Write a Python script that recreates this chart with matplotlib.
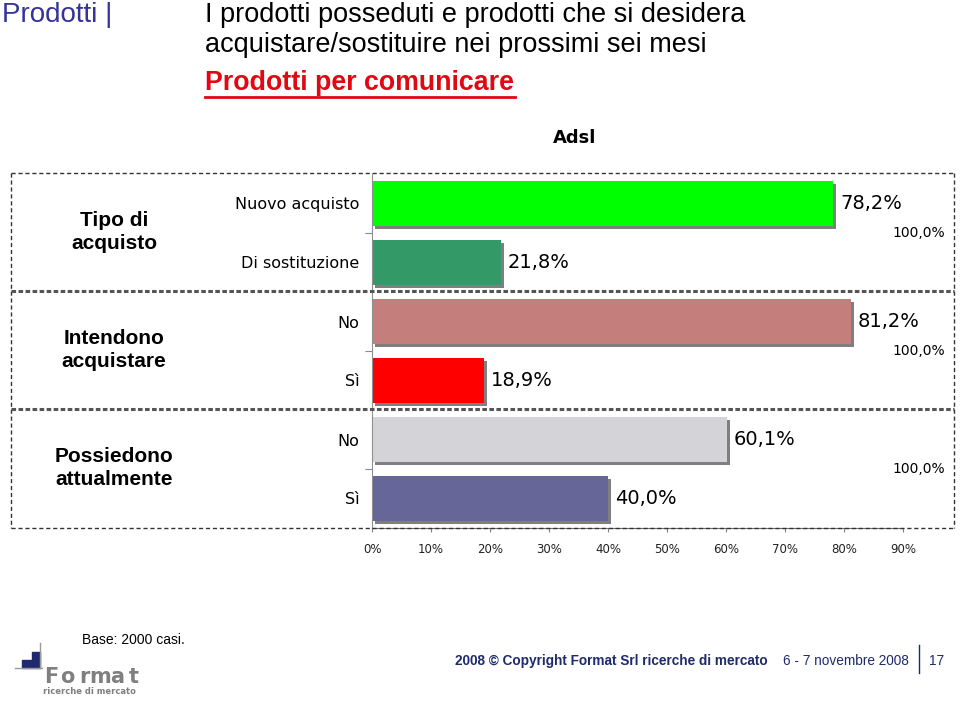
import matplotlib
matplotlib.use("Agg")
import matplotlib.pyplot as plt
import matplotlib.patheffects as pe
from matplotlib.lines import Line2D
from matplotlib.patches import Rectangle

# Data
categories = ["Nuovo acquisto", "Di sostituzione", "No", "Sì", "No", "Sì"]
values = [78.2, 21.8, 81.2, 18.9, 60.1, 40.0]
bar_colors = ["#00ff00", "#339966", "#c47f7c", "#ff0000", "#d4d4d8", "#666699"]
groups = ["Tipo di\nacquisto", "Intendono\nacquistare", "Possiedono\nattualmente"]
group_totals = [100.0, 100.0, 100.0]
x_ticks = [0, 10, 20, 30, 40, 50, 60, 70, 80, 90]

W, H = 960, 703


def fx(x):
    return x / W


def fy(y):
    return 1 - y / H


def pct(v):
    return f"{v:.1f}%".replace(".", ",")


fig = plt.figure(figsize=(9.6, 7.03), dpi=100)
ax = fig.add_axes([fx(372), fy(528), fx(903) - fx(372), fy(174) - fy(528)])

ypos = list(range(len(values)))
shadow = [pe.SimplePatchShadow(offset=(2.2, -2.2), shadow_rgbFace="#7f7f7f", alpha=1), pe.Normal()]
bars = ax.barh(ypos, values, height=0.75, color=bar_colors, edgecolor="none")
for b in bars:
    b.set_path_effects(shadow)

for y, v in zip(ypos, values):
    ax.annotate(pct(v), (v, y), xytext=(5, 0), textcoords="offset points",
                ha="left", va="center", fontsize=14, family="DejaVu Sans")

for i, t in enumerate(group_totals):
    ax.annotate(pct(t), (1.0, 2 * i + 0.5), xycoords=("axes fraction", "data"),
                xytext=(42, 0), textcoords="offset pixels",
                ha="right", va="center", fontsize=10, family="DejaVu Sans")

ax.set_xlim(0, 90)
ax.set_ylim(len(values) - 0.5, -0.5)
ax.set_xticks(x_ticks)
ax.set_xticklabels([f"{t}%" for t in x_ticks], fontsize=8.5, family="DejaVu Sans", color="#222222")
ax.tick_params(axis="x", length=3, width=0.8, color="#808080", pad=8)
ax.set_yticks(ypos)
ax.set_yticklabels(categories, fontsize=11.5, family="DejaVu Sans")
ax.tick_params(axis="y", length=0, pad=9)
ax.set_yticks([0.5, 2.5, 4.5], minor=True)
ax.tick_params(axis="y", which="minor", length=5, color="#9080b0", width=0.8)
for s in ["top", "right"]:
    ax.spines[s].set_visible(False)
ax.spines["left"].set_color("#909090")
ax.spines["bottom"].set_color("#707070")

# group labels
for i, g in enumerate(groups):
    cy = 232 + i * 118
    fig.text(fx(114), fy(cy), g, ha="center", va="center", fontsize=15,
             fontweight="bold", family="Liberation Sans", linespacing=1.3)

# dashed frame and separators
dash = dict(color="#333333", lw=1, linestyle=(0, (3, 2)), transform=fig.transFigure)
fig.add_artist(Line2D([fx(11), fx(954)], [fy(173), fy(173)], **dash))
fig.add_artist(Line2D([fx(11), fx(954)], [fy(528), fy(528)], **dash))
fig.add_artist(Line2D([fx(11), fx(11)], [fy(173), fy(528)], **dash))
fig.add_artist(Line2D([fx(954), fx(954)], [fy(173), fy(528)], **dash))
for yy in [291, 409]:
    fig.add_artist(Line2D([fx(11), fx(954)], [fy(yy), fy(yy)], color="#555555", lw=2.2,
                          linestyle=(0, (1.5, 0.8)), transform=fig.transFigure))

# headers
fig.text(fx(2), fy(15), "Prodotti |", ha="left", va="center", fontsize=20,
         color="#333399", family="Liberation Sans")
fig.text(fx(205), fy(15), "I prodotti posseduti e prodotti che si desidera",
         ha="left", va="center", fontsize=19.5, family="Liberation Sans")
fig.text(fx(205), fy(45), "acquistare/sostituire nei prossimi sei mesi",
         ha="left", va="center", fontsize=19.5, family="Liberation Sans")
fig.text(fx(205), fy(83), "Prodotti per comunicare", ha="left", va="center",
         fontsize=19.3, fontweight="bold", color="#e30613", family="Liberation Sans")
fig.add_artist(Line2D([fx(205), fx(515)], [fy(97), fy(97)], color="#e30613", lw=2,
                      transform=fig.transFigure))
fig.text(fx(575), fy(138), "Adsl", ha="center", va="center", fontsize=13,
         fontweight="bold", family="DejaVu Sans")

# footer
fig.text(fx(82), fy(640), "Base: 2000 casi.", ha="left", va="center", fontsize=10,
         family="Liberation Sans")
fig.text(fx(455), fy(661), "2008 © Copyright Format Srl ricerche di mercato",
         ha="left", va="center", fontsize=9.8, fontweight="bold", color="#1f2a6e",
         family="Liberation Sans")
fig.text(fx(783), fy(661), "6 - 7 novembre 2008", ha="left", va="center", fontsize=9.8,
         color="#1f2a6e", family="Liberation Sans")
fig.add_artist(Line2D([fx(919), fx(919)], [fy(645), fy(673)], color="#1f2a6e", lw=1,
                      transform=fig.transFigure))
fig.text(fx(929), fy(661), "17", ha="left", va="center", fontsize=9.8,
         color="#1f2a6e", family="Liberation Sans")

# logo
fig.add_artist(Rectangle((fx(22), fy(668)), fx(18), fy(660) - fy(668), color="#1f2a6e",
                         transform=fig.transFigure))
fig.add_artist(Rectangle((fx(32), fy(660)), fx(8), fy(652) - fy(660), color="#1f2a6e",
                         transform=fig.transFigure))
fig.add_artist(Line2D([fx(40), fx(40)], [fy(643), fy(668)], color="#9a9a9a", lw=1,
                      transform=fig.transFigure))
fig.add_artist(Line2D([fx(15), fx(42)], [fy(668), fy(668)], color="#9a9a9a", lw=1,
                      transform=fig.transFigure))
for k, ch in enumerate("Format"):
    fig.text(fx(51 + k * 16.5), fy(677), ch, ha="center", va="center", fontsize=15,
             fontweight="bold", color="#7f7f7f", family="DejaVu Sans")
fig.text(fx(43), fy(691), "ricerche di mercato", ha="left", va="center", fontsize=6,
         fontweight="bold", color="#7f7f7f", family="DejaVu Sans")

fig.savefig("out.png", dpi=100)
